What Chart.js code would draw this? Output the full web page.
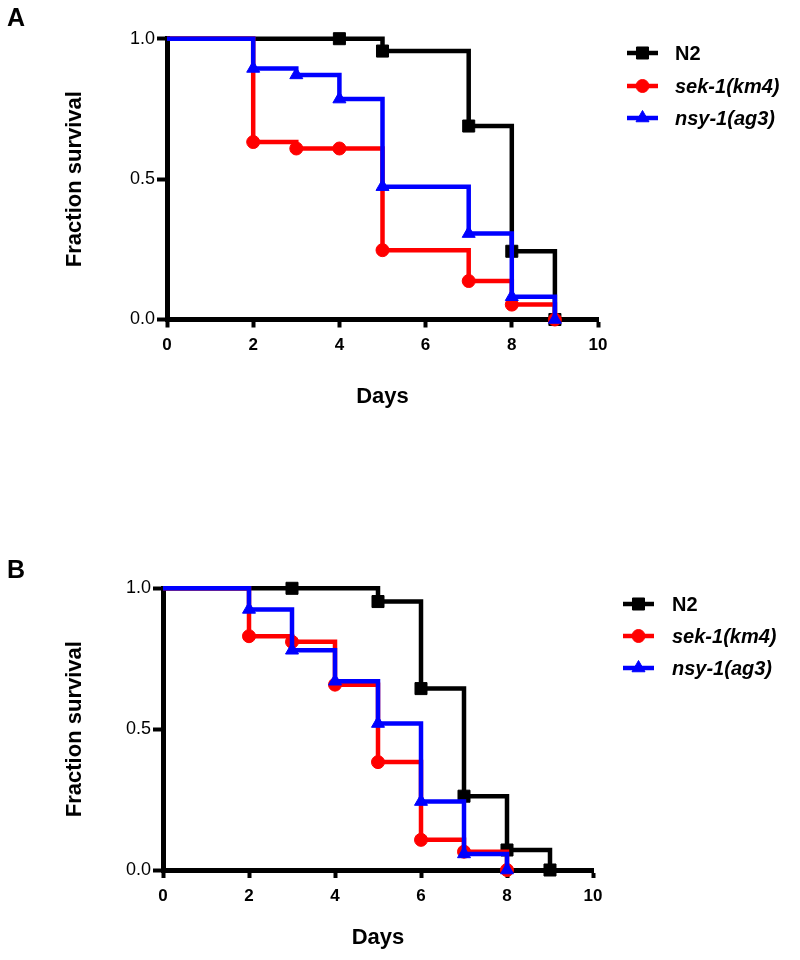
<!DOCTYPE html>
<html>
<head>
<meta charset="utf-8">
<script src="https://cdn.jsdelivr.net/npm/chart.js@4"></script>
<style>
  body { margin: 0; background: #fff; }
  .panel { position: absolute; left: 0; width: 800px; height: 480px; }
  .tag { position: absolute; left: 7px; font: bold 25px "Liberation Sans", Arial, sans-serif; color: #000; }
</style>
</head>
<body>
<div class="panel" style="top:0"><canvas id="chartA" width="800" height="480"></canvas></div>
<div class="panel" style="top:480px"><canvas id="chartB" width="800" height="480"></canvas></div>
<div class="tag" style="top:3px">A</div>
<div class="tag" style="top:555px">B</div>
<script>
// series names
const names = ['N2', 'sek-1(km4)', 'nsy-1(ag3)'];

// panel A
const aN2Days = [0, 4, 5, 7, 8, 9];
const aN2Surv = [1, 1, 0.956, 0.689, 0.243, 0];
const aSekDays = [0, 2, 3, 4, 5, 7, 8, 9];
const aSekSurv = [1, 0.632, 0.609, 0.609, 0.247, 0.137, 0.053, 0];
const aNsyDays = [0, 2, 3, 4, 5, 7, 8, 9];
const aNsySurv = [1, 0.894, 0.871, 0.785, 0.473, 0.306, 0.081, 0];

// panel B
const bN2Days = [0, 3, 5, 6, 7, 8, 9];
const bN2Surv = [1, 1, 0.953, 0.644, 0.262, 0.071, 0];
const bSekDays = [0, 2, 3, 4, 5, 6, 7, 8];
const bSekSurv = [1, 0.830, 0.810, 0.658, 0.383, 0.107, 0.065, 0];
const bNsyDays = [0, 2, 3, 4, 5, 6, 7, 8];
const bNsySurv = [1, 0.925, 0.780, 0.670, 0.520, 0.243, 0.057, 0];

// ticks
const xTicks = [0, 2, 4, 6, 8, 10];
const yTicks = [0, 0.5, 1];

Chart.defaults.font.family = '"Liberation Sans", Arial, sans-serif';
Chart.defaults.color = '#000';

const styles = [
  { color: '#000000', pointStyle: 'rect', radius: 8.5, italic: false },
  { color: '#ff0000', pointStyle: 'circle', radius: 6.5, italic: true },
  { color: '#0000ff', pointStyle: 'triangle', radius: 7.5, italic: true }
];

function toPts(xs, ys) {
  return xs.map((x, i) => ({ x: x, y: ys[i] }));
}

// legend drawn beside the plot, uses the same styles as the datasets
const sideLegend = {
  id: 'sideLegend',
  afterDraw(chart, args, opts) {
    const ctx = chart.ctx;
    ctx.save();
    styles.forEach((s, i) => {
      const y = opts.rows[i];
      ctx.strokeStyle = s.color;
      ctx.fillStyle = s.color;
      ctx.lineWidth = 4.5;
      ctx.beginPath();
      ctx.moveTo(opts.x1, y);
      ctx.lineTo(opts.x2, y);
      ctx.stroke();
      ctx.lineWidth = 1;
      Chart.helpers.drawPoint(ctx, { pointStyle: s.pointStyle, radius: s.radius, rotation: 0, borderWidth: 1 },
        (opts.x1 + opts.x2) / 2, y);
      ctx.fillStyle = '#000';
      ctx.font = (s.italic ? 'italic ' : '') + 'bold 20px "Liberation Sans", Arial, sans-serif';
      ctx.textBaseline = 'middle';
      ctx.fillText(names[i], opts.tx, y + 1);
    });
    ctx.restore();
  }
};

function makeChart(id, series, box) {
  const datasets = series.map((d, i) => ({
    label: names[i],
    data: toPts(d[0], d[1]),
    borderColor: styles[i].color,
    backgroundColor: styles[i].color,
    borderWidth: 4.5,
    stepped: true,
    pointStyle: styles[i].pointStyle,
    pointRadius: d[0].map((x, j) => j === 0 ? 0 : styles[i].radius),
    pointBorderWidth: 1,
    clip: false,
    order: 2 - i
  }));

  return new Chart(document.getElementById(id), {
    type: 'line',
    data: { datasets: datasets },
    plugins: [sideLegend],
    options: {
      responsive: false,
      animation: false,
      layout: { padding: { top: box.top, right: 800 - box.right, left: 0, bottom: 0 } },
      plugins: {
        legend: { display: false },
        tooltip: { enabled: false },
        sideLegend: box.legend
      },
      scales: {
        x: {
          type: 'linear',
          min: 0,
          max: 10,
          afterBuildTicks: s => { s.ticks = xTicks.map(v => ({ value: v })); },
          afterFit: s => { s.height = 480 - box.bottom; },
          border: { display: true, color: '#000', width: 5 },
          grid: { drawOnChartArea: false, color: '#000', tickLength: 8, tickWidth: 4 },
          ticks: { padding: 8, font: { size: 17, weight: 'bold' }, color: '#000' },
          title: { display: true, text: 'Days', font: { size: 22, weight: 'bold' }, color: '#000',
                   padding: { top: 0, bottom: box.daysPad } }
        },
        y: {
          min: 0,
          max: 1,
          afterBuildTicks: s => { s.ticks = yTicks.map(v => ({ value: v })); },
          afterFit: s => { s.width = box.left; },
          border: { display: true, color: '#000', width: 5 },
          grid: { drawOnChartArea: false, color: '#000', tickLength: 10, tickWidth: 4 },
          ticks: { padding: 2, font: { size: 18 }, color: '#000', callback: v => v.toFixed(1) },
          title: { display: true, text: 'Fraction survival', font: { size: 22, weight: 'bold' }, color: '#000',
                   padding: { top: 62, bottom: 0 } }
        }
      }
    }
  });
}

makeChart('chartA', [[aN2Days, aN2Surv], [aSekDays, aSekSurv], [aNsyDays, aNsySurv]], {
  top: 38.7, bottom: 319.5, left: 167, right: 598, daysPad: 70,
  legend: { x1: 627, x2: 658, tx: 675, rows: [53, 86, 118] }
});

makeChart('chartB', [[bN2Days, bN2Surv], [bSekDays, bSekSurv], [bNsyDays, bNsySurv]], {
  top: 108.3, bottom: 390, left: 163, right: 593, daysPad: 9,
  legend: { x1: 623, x2: 654, tx: 672, rows: [124, 156, 188] }
});
</script>
</body>
</html>
